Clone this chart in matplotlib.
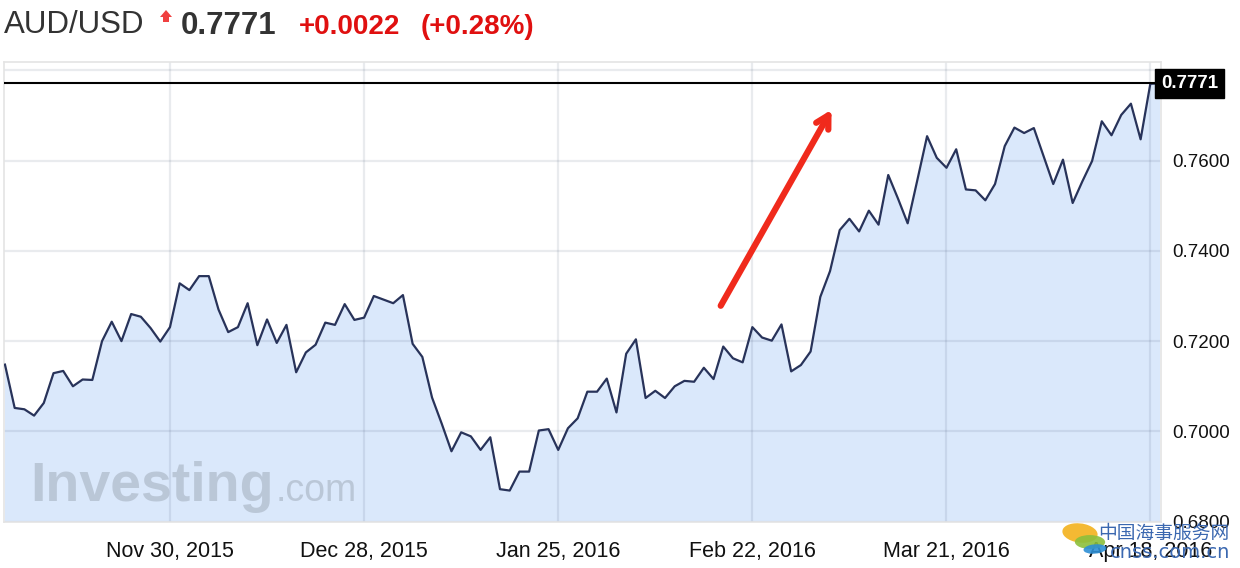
import matplotlib
matplotlib.use("Agg")
import matplotlib.pyplot as plt
import numpy as np
from matplotlib.patches import Polygon, Ellipse

# AUD/USD daily closes, business-day index
closes = [
    0.7148, 0.7052, 0.7049, 0.7035, 0.7063, 0.7129, 0.7134, 0.7100, 0.7115, 0.7114,
    0.7200, 0.7243, 0.7200, 0.7260, 0.7254, 0.7229, 0.7199, 0.7231, 0.7328, 0.7313,
    0.7344, 0.7344, 0.7270, 0.7220, 0.7231, 0.7284, 0.7191, 0.7248, 0.7196, 0.7236,
    0.7131, 0.7175, 0.7192, 0.7241, 0.7236, 0.7282, 0.7247, 0.7252, 0.7300, 0.7292,
    0.7284, 0.7302, 0.7194, 0.7165, 0.7075, 0.7017, 0.6956, 0.6998, 0.6989, 0.6959,
    0.6987, 0.6872, 0.6869, 0.6911, 0.6911, 0.7002, 0.7005, 0.6959, 0.7007, 0.7029,
    0.7088, 0.7088, 0.7117, 0.7042, 0.7172, 0.7204, 0.7074, 0.7090, 0.7074, 0.7100,
    0.7112, 0.7110, 0.7141, 0.7116, 0.7188, 0.7162, 0.7153, 0.7231, 0.7208, 0.7201,
    0.7237, 0.7133, 0.7147, 0.7177, 0.7298, 0.7355, 0.7446, 0.7471, 0.7443, 0.7489,
    0.7458, 0.7568, 0.7516, 0.7461, 0.7557, 0.7654, 0.7606, 0.7584, 0.7625, 0.7536,
    0.7534, 0.7512, 0.7548, 0.7632, 0.7673, 0.7661, 0.7672, 0.7610, 0.7548, 0.7602,
    0.7506, 0.7554, 0.7599, 0.7687, 0.7656, 0.7701, 0.7726, 0.7647, 0.7770, 0.7771,
]
tick_idx = [17, 37, 57, 77, 97, 118]
tick_labels = ["Nov 30, 2015", "Dec 28, 2015", "Jan 25, 2016",
               "Feb 22, 2016", "Mar 21, 2016", "Apr 18, 2016"]
y_ticks = [0.68, 0.70, 0.72, 0.74, 0.76, 0.78]
last_price = 0.7771
change = "+0.0022"
change_pct = "(+0.28%)"

plt.rcParams['font.family'] = ['Liberation Sans', 'DejaVu Sans']

W, H = 1240, 568
def fx(px):
    return px / W
def fy(py):
    return 1 - py / H

fig = plt.figure(figsize=(12.4, 5.68), dpi=100)
ax = fig.add_axes([fx(4), fy(521.7), (1161 - 4) / W, (521.7 - 61.7) / H])

x = np.arange(len(closes))
ax.fill_between(x, closes, 0.6, color='#dae8fb', zorder=0.3, lw=0)
ax.plot(x, closes, color='#28335a', lw=1.6, zorder=3)
ax.axhline(last_price, color='black', lw=1.5, zorder=4)

ax.set_xlim(-0.1, 119.1)
ax.set_ylim(0.68, 0.7819)
ax.set_xticks(tick_idx)
ax.set_xticklabels(tick_labels, fontsize=15.5, color='#111111')
ax.set_yticks(y_ticks)
ax.set_yticklabels(["%.4f" % v for v in y_ticks[:-1]] + [""], fontsize=13.5, color='#111111')
ax.yaxis.tick_right()
ax.tick_params(axis='x', length=0, pad=14)
ax.tick_params(axis='y', length=0, pad=8)
ax.set_axisbelow(True)
ax.grid(True, color='#3a4a6a', alpha=0.11, lw=1.6)
for s in ax.spines.values():
    s.set_color('#e4e4e4')
    s.set_linewidth(1.2)

# price tag
ax.text(1.0, last_price, "0.7771", transform=ax.get_yaxis_transform(),
        ha='left', va='center', color='white', fontsize=13.5, fontweight='bold',
        bbox=dict(boxstyle='square,pad=0.33', fc='black', ec='black'),
        clip_on=False, zorder=6)

# red arrow
ax.annotate("", xy=(85.3, 0.7718), xytext=(73.6, 0.7273),
            arrowprops=dict(arrowstyle='->,head_length=0.9,head_width=0.5',
                            color='#f02a1c', lw=4.5, capstyle='round'),
            zorder=5)

# watermark
fig.text(fx(30), fy(501), "Investing", fontsize=40, fontweight='bold',
         color='#b3bfcf', alpha=0.8, va='baseline', zorder=1)
fig.text(fx(276), fy(501), ".com", fontsize=27,
         color='#b3bfcf', alpha=0.8, va='baseline', zorder=1)

# header
fig.text(fx(4), fy(33), "AUD/USD", fontsize=22.5, color='#333333', va='baseline')
fig.patches.append(Polygon([(fx(160), fy(17)), (fx(166), fy(10)), (fx(172), fy(17)),
                            (fx(169), fy(17)), (fx(169), fy(22)), (fx(163), fy(22)),
                            (fx(163), fy(17))], closed=True, fc='#f04040', ec='none',
                           transform=fig.transFigure))
fig.text(fx(181), fy(34), "0.7771", fontsize=22.5, fontweight='bold', color='#333333', va='baseline')
fig.text(fx(299), fy(34), change, fontsize=20, fontweight='bold', color='#e01010', va='baseline')
fig.text(fx(421), fy(34), change_pct, fontsize=20, fontweight='bold', color='#e01010', va='baseline')

# cnss logo watermark
for (cx, cy, w, h, ang, c) in [(1080, 533, 34, 20, 20, '#f3b21d'),
                               (1090, 542, 30, 14, 45, '#8cbf3c'),
                               (1095, 549, 24, 9, 30, '#2d8fd5')]:
    fig.patches.append(Ellipse((fx(cx), fy(cy)), w / W, h / H, angle=ang, fc=c, ec='none',
                               alpha=0.9, transform=fig.transFigure))
fig.text(fx(1098), fy(539), "中国海事服务网", fontsize=13.5, color='#3b68b0',
         family=['Noto Sans CJK SC', 'DejaVu Sans'], va='baseline')
fig.text(fx(1110), fy(558), "cnss.com.cn", fontsize=14, color='#3b68b0',
         family=['DejaVu Sans'], va='baseline')

fig.savefig("out.png", dpi=100)
